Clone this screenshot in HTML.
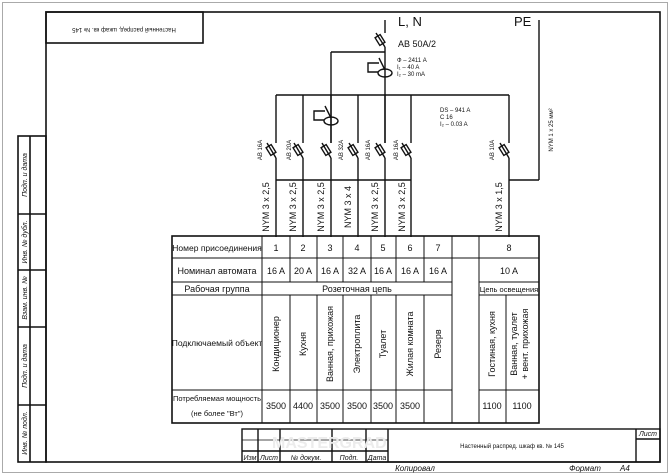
<!DOCTYPE html>
<html><head><meta charset="utf-8"><style>
html,body{margin:0;padding:0;background:#fff}
svg{display:block}
text{font-family:"Liberation Sans",sans-serif;fill:#111}
</style></head><body>
<svg width="671" height="475" viewBox="0 0 671 475" xmlns="http://www.w3.org/2000/svg">
<rect x="2.5" y="2.5" width="665" height="470" fill="none" stroke="#aaa" stroke-width="1"/>
<g stroke="#111" fill="none" stroke-width="1.6">
<rect x="46" y="12" width="614" height="450"/>
<rect x="46" y="12" width="157" height="31"/>
<rect x="18" y="136" width="28" height="326"/>
<line x1="30" y1="136" x2="30" y2="462"/>
<line x1="18" y1="214" x2="46" y2="214"/>
<line x1="18" y1="270" x2="46" y2="270"/>
<line x1="18" y1="327" x2="46" y2="327"/>
<line x1="18" y1="405" x2="46" y2="405"/>
</g>
<text transform="translate(124,28) rotate(180)" font-size="6" text-anchor="middle">Настенный распред. шкаф кв. № 145</text>
<g font-size="7" font-style="italic" text-anchor="middle">
<text transform="translate(27,175) rotate(-90)">Подп. и дата</text>
<text transform="translate(27,242) rotate(-90)">Инв. № дубл.</text>
<text transform="translate(27,298) rotate(-90)">Взам. инв. №</text>
<text transform="translate(27,366) rotate(-90)">Подп. и дата</text>
<text transform="translate(27,433) rotate(-90)">Инв. № подл.</text>
</g>
<g stroke="#111" fill="none" stroke-width="1.4">
<line x1="385" y1="20" x2="385" y2="33"/>
<line x1="385" y1="47" x2="385" y2="143"/>
<line x1="385" y1="47" x2="376" y2="33"/>
<rect x="-3" y="-4.5" width="6" height="9" transform="translate(380,40) rotate(-32)"/>
<line x1="331" y1="52" x2="385" y2="52"/>
<line x1="331" y1="52" x2="331" y2="143"/>
<line x1="385" y1="70" x2="379" y2="58"/>
<polyline points="379,63 368,63 368,72 378,72"/>
<ellipse cx="385" cy="73" rx="7" ry="4"/>
<line x1="331" y1="118" x2="325" y2="106"/>
<polyline points="325,111 314,111 314,120 324,120"/>
<ellipse cx="331" cy="121" rx="7" ry="4"/>
<line x1="276" y1="95" x2="509" y2="95"/>
<line x1="539" y1="20" x2="539" y2="180"/>
<line x1="276" y1="180" x2="411" y2="180"/>
<line x1="509" y1="180" x2="539" y2="180"/>
</g>
<defs>
<g id="b"><line x1="0" y1="95" x2="0" y2="143"/><line x1="0" y1="158" x2="-9" y2="143"/><rect x="-3" y="-4.5" width="6" height="9" transform="translate(-5,150) rotate(-32)"/><line x1="0" y1="158" x2="0" y2="237"/></g>
</defs>
<g stroke="#111" fill="none" stroke-width="1.4">
<use href="#b" transform="translate(276,0)"/>
<use href="#b" transform="translate(303,0)"/>
<use href="#b" transform="translate(331,0)"/>
<use href="#b" transform="translate(358,0)"/>
<use href="#b" transform="translate(385,0)"/>
<use href="#b" transform="translate(411,0)"/>
<use href="#b" transform="translate(509,0)"/>
</g>
<text x="398" y="26" font-size="13">L, N</text>
<text x="514" y="26" font-size="13">PE</text>
<text x="398" y="47" font-size="9">AB 50A/2</text>
<g font-size="6"><text x="397" y="62">Ф – 2411 A</text><text x="397" y="69">I₁ – 40 A</text><text x="397" y="76">I₂ – 30 mA</text>
<text x="440" y="112">DS – 941 A</text><text x="440" y="119">C 16</text><text x="440" y="126">I₂ – 0.03 A</text></g>
<g font-size="6" text-anchor="middle">
<text transform="translate(262,150) rotate(-90)">AB 16A</text>
<text transform="translate(291,150) rotate(-90)">AB 20A</text>
<text transform="translate(343,150) rotate(-90)">AB 32A</text>
<text transform="translate(370,150) rotate(-90)">AB 16A</text>
<text transform="translate(398,150) rotate(-90)">AB 16A</text>
<text transform="translate(494,150) rotate(-90)">AB 10A</text>
<text transform="translate(553,130) rotate(-90)">NYM 1 x 25 мм²</text>
</g>
<g font-size="9" text-anchor="middle">
<text transform="translate(269,207) rotate(-90)">NYM 3 x 2,5</text>
<text transform="translate(296,207) rotate(-90)">NYM 3 x 2,5</text>
<text transform="translate(324,207) rotate(-90)">NYM 3 x 2,5</text>
<text transform="translate(351,207) rotate(-90)">NYM 3 x 4</text>
<text transform="translate(378,207) rotate(-90)">NYM 3 x 2,5</text>
<text transform="translate(405,207) rotate(-90)">NYM 3 x 2,5</text>
<text transform="translate(502,207) rotate(-90)">NYM 3 x 1,5</text>
</g>
<g stroke="#111" fill="none" stroke-width="1">
<rect x="172" y="236" width="367" height="187" stroke-width="1.6"/>
<line x1="172" y1="258" x2="539" y2="258"/>
<line x1="172" y1="282" x2="452" y2="282"/><line x1="479" y1="282" x2="539" y2="282"/>
<line x1="172" y1="295" x2="452" y2="295"/><line x1="479" y1="295" x2="539" y2="295"/>
<line x1="172" y1="390" x2="452" y2="390"/><line x1="479" y1="390" x2="539" y2="390"/>
<line x1="262" y1="236" x2="262" y2="423"/>
<line x1="290" y1="236" x2="290" y2="282"/><line x1="290" y1="295" x2="290" y2="423"/>
<line x1="317" y1="236" x2="317" y2="282"/><line x1="317" y1="295" x2="317" y2="423"/>
<line x1="343" y1="236" x2="343" y2="282"/><line x1="343" y1="295" x2="343" y2="423"/>
<line x1="371" y1="236" x2="371" y2="282"/><line x1="371" y1="295" x2="371" y2="423"/>
<line x1="396" y1="236" x2="396" y2="282"/><line x1="396" y1="295" x2="396" y2="423"/>
<line x1="424" y1="236" x2="424" y2="282"/><line x1="424" y1="295" x2="424" y2="423"/>
<line x1="452" y1="236" x2="452" y2="423"/>
<line x1="479" y1="236" x2="479" y2="423"/>
<line x1="506" y1="295" x2="506" y2="423"/>
</g>
<g font-size="9" text-anchor="middle">
<text x="217" y="251" font-size="8.5">Номер присоединения</text>
<text x="276" y="251">1</text><text x="303" y="251">2</text><text x="330" y="251">3</text><text x="357" y="251">4</text><text x="383" y="251">5</text><text x="410" y="251">6</text><text x="438" y="251">7</text><text x="509" y="251">8</text>
<text x="217" y="274">Номинал автомата</text>
<text x="276" y="274">16 A</text><text x="303" y="274">20 A</text><text x="330" y="274">16 A</text><text x="357" y="274">32 A</text><text x="383" y="274">16 A</text><text x="410" y="274">16 A</text><text x="438" y="274">16 A</text><text x="509" y="274">10 A</text>
<text x="217" y="292">Рабочая группа</text>
<text x="357" y="292">Розеточная цепь</text>
<text x="509" y="292" font-size="7.5">Цепь освещения</text>
<text x="217" y="346" font-size="8.5">Подключаемый объект</text>
<text x="276" y="409">3500</text><text x="303" y="409">4400</text><text x="330" y="409">3500</text><text x="357" y="409">3500</text><text x="383" y="409">3500</text><text x="410" y="409">3500</text>
<text x="492" y="409">1100</text><text x="522" y="409">1100</text>
</g>
<g font-size="7.5" text-anchor="middle">
<text x="217" y="401">Потребляемая мощность</text>
<text x="217" y="416">(не более "Вт")</text>
</g>
<g font-size="9" text-anchor="middle">
<text transform="translate(279,344) rotate(-90)">Кондиционер</text>
<text transform="translate(306,344) rotate(-90)">Кухня</text>
<text transform="translate(333,344) rotate(-90)">Ванная, прихожая</text>
<text transform="translate(360,344) rotate(-90)">Электроплита</text>
<text transform="translate(386,344) rotate(-90)">Туалет</text>
<text transform="translate(413,344) rotate(-90)">Жилая комната</text>
<text transform="translate(441,344) rotate(-90)">Резерв</text>
<text transform="translate(495,344) rotate(-90)">Гостиная, кухня</text>
<text transform="translate(517,344) rotate(-90)">Ванная, туалет</text>
<text transform="translate(528,344) rotate(-90)">+ вент. прихожая</text>
</g>
<g stroke="#111" fill="none" stroke-width="1.4">
<rect x="242" y="429" width="418" height="33"/>
<line x1="258" y1="429" x2="258" y2="462"/>
<line x1="280" y1="429" x2="280" y2="462"/>
<line x1="332" y1="429" x2="332" y2="462"/>
<line x1="366" y1="429" x2="366" y2="462"/>
<line x1="388" y1="429" x2="388" y2="462"/>
<line x1="636" y1="429" x2="636" y2="462"/>
<line x1="636" y1="439" x2="660" y2="439"/>
<line x1="242" y1="440" x2="388" y2="440" stroke-width="0.8"/>
<line x1="242" y1="451" x2="388" y2="451"/>
</g>
<text x="272" y="448" font-size="16" font-weight="bold" style="fill:#ececec">MASTERGRAD</text>
<g font-size="7" font-style="italic" text-anchor="middle">
<text x="250" y="460">Изм</text><text x="269" y="460">Лист</text><text x="306" y="460">№ докум.</text><text x="349" y="460">Подп.</text><text x="377" y="460">Дата</text>
<text x="648" y="436">Лист</text>
</g>
<text x="512" y="448" font-size="6" text-anchor="middle">Настенный распред. шкаф кв. № 145</text>
<text x="415" y="471" font-size="8" font-style="italic" text-anchor="middle">Копировал</text>
<text x="585" y="471" font-size="8" font-style="italic" text-anchor="middle">Формат</text>
<text x="620" y="471" font-size="8" font-style="italic">A4</text>
</svg>
</body></html>
